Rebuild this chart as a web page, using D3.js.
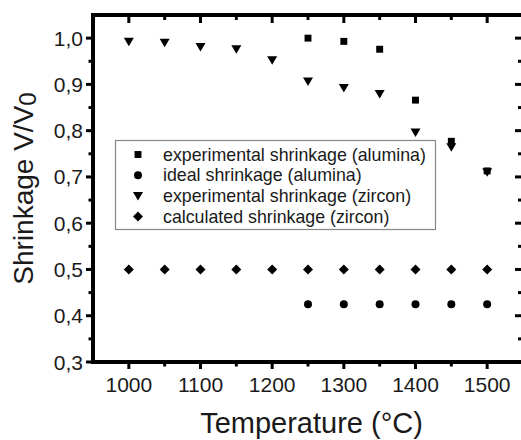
<!DOCTYPE html>
<html><head><meta charset="utf-8">
<script src="https://cdn.jsdelivr.net/npm/d3@7"></script>
<style>
body{margin:0;background:#fff;}
text{font-family:"Liberation Sans",Arial,sans-serif;}
</style></head>
<body><svg id="c" width="521" height="440"></svg>
<script>
// ---- data ----
const tempAll = [1000,1050,1100,1150,1200,1250,1300,1350,1400,1450,1500];
const aluminaTemps = [1250,1300,1350,1400,1450,1500];
const expAlumina = [1.0,0.993,0.976,0.866,0.777,0.713];
const idealAlumina = [0.425,0.425,0.425,0.425,0.425,0.425];
const expZircon = [0.992,0.99,0.981,0.976,0.952,0.906,0.892,0.879,0.796,0.764,0.71];
const calcZircon = [0.5,0.5,0.5,0.5,0.5,0.5,0.5,0.5,0.5,0.5,0.5];
const xTicks = [1000,1100,1200,1300,1400,1500];
const xMinor = [1050,1150,1250,1350,1450];
const yTicks = [0.3,0.4,0.5,0.6,0.7,0.8,0.9,1.0];
const yMinor = [0.35,0.45,0.55,0.65,0.75,0.85,0.95];
const legendLabels = ["experimental shrinkage (alumina)","ideal shrinkage (alumina)","experimental shrinkage (zircon)","calculated shrinkage (zircon)"];

const svg = d3.select("#c");
const L=93, R=523, T=15, B=362;
const x = d3.scaleLinear().domain([950,1550]).range([L,R]);
const y = d3.scaleLinear().domain([0.3,1.05]).range([B,T]);
const fmt = d => d.toFixed(1).replace('.', ',');

// frame
const g = svg.append("g");
g.append("rect").attr("x",L).attr("y",T).attr("width",R-L).attr("height",B-T)
 .attr("fill","none").attr("stroke","#000").attr("stroke-width",4);

// ticks
const tk = (x1,y1,x2,y2,w)=>g.append("line").attr("x1",x1).attr("y1",y1).attr("x2",x2).attr("y2",y2).attr("stroke","#000").attr("stroke-width",w||3);
xTicks.forEach(v=>{ tk(x(v),B,x(v),B+7); tk(x(v),T,x(v),T+8); });
xMinor.forEach(v=>{ tk(x(v),B,x(v),B+4.5); tk(x(v),T,x(v),T+5); });
yTicks.forEach(v=>{ tk(L,y(v),L-7,y(v)); tk(R,y(v),R-8,y(v)); });
yMinor.forEach(v=>{ tk(L,y(v),L-4.5,y(v)); tk(R,y(v),R-5,y(v)); });

// tick labels
g.selectAll(".xl").data(xTicks).enter().append("text")
 .attr("x",d=>x(d)).attr("y",391.5).attr("text-anchor","middle")
 .attr("font-size",21).attr("fill","#1a1a1a").text(d=>d);
g.selectAll(".yl").data(yTicks).enter().append("text")
 .attr("x",83).attr("y",d=>y(d)+7.5).attr("text-anchor","end")
 .attr("font-size",21).attr("fill","#1a1a1a").text(fmt);

// axis titles
svg.append("text").attr("x",311.5).attr("y",433).attr("text-anchor","middle")
 .attr("font-size",29).attr("fill","#1a1a1a").text("Temperature (°C)");
const yl = svg.append("text").attr("transform","translate(33,188.5) rotate(-90)")
 .attr("text-anchor","middle").attr("font-size",28).attr("fill","#1a1a1a");
yl.append("tspan").text("Shrinkage V/V");
yl.append("tspan").attr("font-size",24).attr("dy",3).text("0");

// markers
const diamondPath = "M0,-5L5,0L0,5L-5,0Z";
const triPath = "M-5,-4L5,-4L0,4.5Z";
const sym = {
  square: d3.symbol().type(d3.symbolSquare).size(48)(),
  circle: d3.symbol().type(d3.symbolCircle).size(50)(),
  tri: triPath,
  diamond: diamondPath
};
function plot(xs, ys, s){
  svg.append("g").selectAll("path").data(xs.map((t,i)=>[t,ys[i]])).enter().append("path")
   .attr("d",sym[s]).attr("fill","#000")
   .attr("transform",d=>`translate(${x(d[0])},${y(d[1])})`);
}
plot(tempAll, calcZircon, "diamond");
plot(aluminaTemps, idealAlumina, "circle");
plot(tempAll, expZircon, "tri");
plot(aluminaTemps, expAlumina, "square");

// legend
const lg = svg.append("g");
lg.append("rect").attr("x",115.5).attr("y",140.5).attr("width",320).attr("height",89)
 .attr("fill","#fff").attr("stroke","#888").attr("stroke-width",1.2);
const lsyms = ["square","circle","tri","diamond"];
legendLabels.forEach((t,i)=>{
  const cy = 154.5 + i*20.7;
  lg.append("path").attr("d",sym[lsyms[i]]).attr("fill","#000")
    .attr("transform",`translate(138,${cy})`);
  lg.append("text").attr("x",163).attr("y",cy+6).attr("font-size",17.8)
    .attr("fill","#1a1a1a").text(t);
});
</script></body></html>
